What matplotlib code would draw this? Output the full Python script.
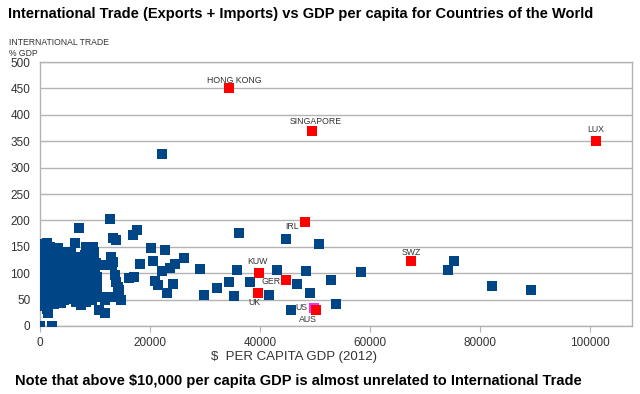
import numpy as np
import matplotlib
matplotlib.use("Agg")
import matplotlib.pyplot as plt

plt.rcParams['font.family'] = ['Liberation Sans', 'DejaVu Sans']

# ---------------------------------------------------------------------------
# Data: GDP per capita (thousand US$) and trade (% of GDP)
# ---------------------------------------------------------------------------
other_gdp = [
    0.3, 1.2, 1.8, 3.3, 4.8, 5.6, 6.4, 7.0, 8.4, 9.7, 9.9,
    0.4, 0.6, 1.0, 0.3, 0.9, 0.5, 1.1, 0.4, 0.8, 0.3, 1.0, 0.5, 0.2, 0.9, 0.4, 1.3, 1.5, 0.7,
    2.0, 2.5, 2.2, 2.8, 2.4, 3.0, 2.1, 2.7, 2.3, 3.1, 2.6, 2.2, 3.0, 2.5,
    3.6, 4.2, 3.8, 4.5, 3.9, 4.4, 3.5, 4.1, 3.7, 4.6, 4.0, 3.4, 4.3, 3.8,
    5.2, 5.8, 6.0, 5.1, 5.7, 5.3, 6.1, 5.5, 6.3, 5.0, 5.8, 6.5,
    6.8, 7.4, 7.0, 7.6, 6.9, 7.5, 7.2, 7.8, 7.7, 6.8, 7.4,
    8.2, 8.8, 8.5, 9.2, 8.4, 9.0, 8.6, 9.4, 8.3, 9.1, 9.5, 8.4,
    9.8, 10.2, 10.0, 10.4, 10.1, 9.9, 0.0, 2.1,
    12.8, 13.3, 13.9, 16.85, 17.6, 12.9, 13.3, 13.0, 11.8, 18.1, 20.6, 22.1,
    13.6, 13.8, 14.1, 14.4, 16.1, 17.0, 20.9, 21.5, 10.3, 10.3, 11.2, 11.8,
    12.9, 14.7, 10.7, 11.8, 20.1, 22.7, 23.1, 24.1, 24.5, 23.6, 26.1, 22.1,
    36.2, 29.1, 35.8, 43.0, 29.8, 32.1, 34.3, 35.3, 38.2, 41.6, 44.7, 50.7,
    48.4, 58.3, 46.7, 52.9, 49.1, 53.8, 45.6, 75.3, 74.2, 82.1, 89.2,
]
other_trade = [
    156, 157, 150, 147, 140, 139, 158, 185, 150, 150, 141,
    145, 135, 128, 120, 112, 104, 97, 90, 82, 74, 66, 58, 50, 44, 38, 32, 25, 37,
    138, 130, 121, 114, 106, 99, 92, 85, 77, 70, 62, 55, 48, 42,
    132, 126, 118, 110, 103, 96, 90, 83, 76, 69, 62, 56, 50, 44,
    128, 120, 106, 99, 92, 85, 78, 71, 64, 58, 52, 45,
    130, 124, 116, 110, 97, 90, 83, 72, 58, 52, 40,
    135, 128, 118, 112, 100, 95, 88, 80, 74, 66, 50, 45,
    130, 120, 108, 85, 70, 60, 0, 0,
    203, 167, 163, 172, 182, 131, 122, 116, 116, 117, 123, 104,
    97, 84, 74, 68, 90, 93, 86, 77, 92, 73, 55, 49,
    55, 50, 30, 24, 148, 143, 62, 80, 117, 110, 128, 326,
    177, 108, 106, 107, 59, 72, 83, 57, 83, 59, 164, 155,
    105, 102, 80, 88, 62, 42, 30, 124, 106, 76, 68,
]

named = ['HONG KONG', 'SINGAPORE', 'LUX', 'IRL', 'KUW', 'GER', 'UK', 'SWZ', 'AUS']
named_gdp = [34.4, 49.4, 101.0, 48.1, 39.8, 44.7, 39.6, 67.5, 50.1]
named_trade = [450, 369, 350, 197, 101, 86.5, 62, 124, 30]

us_gdp = 49.8
us_trade = 35

# label offsets in points (dx, dy)
offsets = {
    'HONG KONG': (3.6, 6.0), 'SINGAPORE': (2.9, 7.2), 'LUX': (0, 8.6),
    'IRL': (-9.4, -2.9), 'KUW': (-1.4, 7.7), 'GER': (-10.6, -1.0),
    'UK': (-2.2, -6.3), 'SWZ': (0, 6.0), 'AUS': (-5.8, -6.7),
}

# ---------------------------------------------------------------------------
fig = plt.figure(figsize=(6.4, 3.94), dpi=100)
ax = fig.add_axes([0.0625, 0.1726, 0.925, 0.670])

grid_col = '#b3b3b3'
txt_col = '#333333'
msize = 46

ax.scatter(np.array(other_gdp) * 1000, other_trade, marker='s', s=msize,
           color='#004586', linewidths=0, zorder=3)
ax.scatter(us_gdp * 1000, us_trade, marker='s', s=msize, color='#ee33ee',
           linewidths=0, zorder=4)
ax.scatter(np.array(named_gdp) * 1000, named_trade, marker='s', s=msize,
           color='#ff0000', linewidths=0, zorder=5)

for name, gx, ty in zip(named, named_gdp, named_trade):
    ax.annotate(name, (gx * 1000, ty), xytext=offsets[name],
                textcoords='offset points', ha='center', va='center',
                fontsize=6.3, color=txt_col, zorder=6)
ax.annotate('US', (us_gdp * 1000, us_trade), xytext=(-8.9, 0),
            textcoords='offset points', ha='center', va='center',
            fontsize=6.3, color=txt_col, zorder=6)

ax.set_xlim(0, 107600)
ax.set_ylim(0, 500)
ax.set_xticks(np.arange(0, 100001, 20000))
ax.set_yticks(np.arange(0, 501, 50))
ax.yaxis.grid(True, color=grid_col, linewidth=1)
ax.set_axisbelow(True)
for sp in ax.spines.values():
    sp.set_color(grid_col)
    sp.set_linewidth(1)
ax.tick_params(axis='y', length=0, pad=7, labelsize=8.5, labelcolor=txt_col)
ax.tick_params(axis='x', length=4, color=grid_col, pad=4, labelsize=8.5,
               labelcolor=txt_col)

fig.text(8 / 640, 1 - 14 / 394, 'International Trade (Exports + Imports) vs GDP per capita for Countries of the World',
         fontsize=10.5, fontweight='bold', ha='left', va='center', color='black')
fig.text(9 / 640, 1 - 38 / 394, 'INTERNATIONAL TRADE\n% GDP', fontsize=6.2,
         ha='left', va='top', color=txt_col, linespacing=1.35)
fig.text(294 / 640, 1 - 357 / 394, '$  PER CAPITA GDP (2012)', fontsize=9.5,
         ha='center', va='center', color=txt_col)
fig.text(15 / 640, 1 - 381 / 394,
         'Note that above $10,000 per capita GDP is almost unrelated to International Trade',
         fontsize=10.5, fontweight='bold', ha='left', va='center', color='black')

fig.savefig('out.png', dpi=100)
